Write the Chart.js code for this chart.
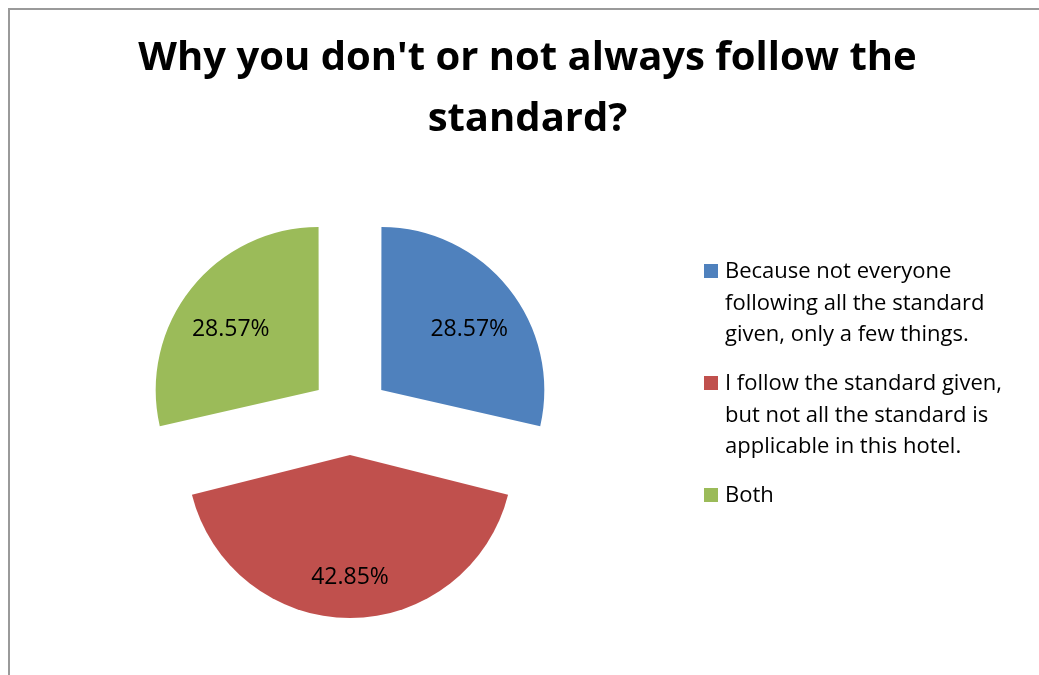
<!DOCTYPE html>
<html>
<head>
<meta charset="utf-8">
<script src="https://cdn.jsdelivr.net/npm/chart.js@4/dist/chart.umd.min.js"></script>
<style>
    html, body { margin: 0; padding: 0; background: #fff; overflow: hidden; }
    #wrap { position: relative; width: 1039px; height: 675px; }
    #frame {
        position: absolute; left: 8px; top: 8px; width: 1100px; height: 700px;
        border-left: 2px solid #9a9a9a; border-top: 2px solid #9a9a9a;
    }
    #title {
        position: absolute; left: 9px; top: 25px; width: 1037px;
        text-align: center; font: bold 40px "Open Sans", sans-serif;
        line-height: 60.6px; color: #000;
    }
    #chart { position: absolute; left: 0; top: 0; }
    #legend {
        position: absolute; left: 704px; top: 254px; width: 335px;
        font: 22px "Open Sans", sans-serif; line-height: 31.7px; color: #000;
    }
    .item { position: relative; padding-left: 21px; margin-bottom: 16.7px; white-space: nowrap; }
    .box { position: absolute; left: 0; top: 10px; width: 14px; height: 14px; }
</style>
</head>
<body>
<div id="wrap">
    <div id="frame"></div>
    <canvas id="chart" width="1039" height="675"></canvas>
    <div id="title">Why you don't or not always follow the<br>standard?</div>
    <div id="legend"></div>
</div>
<script>
const categories = [
    ['Because not everyone', 'following all the standard', 'given, only a few things.'],
    ['I follow the standard given,', 'but not all the standard is', 'applicable in this hotel.'],
    ['Both']
]
const values = [28.57, 42.85, 28.57]
const colors = ['#4F81BD', '#C0504D', '#9BBB59']

const EXPLODE = 40 // distance each slice is pulled out, px

// chart.js moves an arc by offset/4 but also grows narrow arcs by
// offset/4 * (1 - sin(circumference)); shrink them back so all slices match
const evenExplode = {
    id: 'evenExplode',
    beforeDatasetsDraw(chart) {
        const meta = chart.getDatasetMeta(0)
        const R = meta.controller.outerRadius
        meta.data.forEach(arc => {
            const fix = 1 - Math.sin(Math.min(Math.PI, arc.circumference))
            arc.outerRadius = R - EXPLODE * fix
        })
    }
}

const pctLabels = {
    id: 'pctLabels',
    afterDatasetsDraw(chart) {
        const c = chart.ctx
        const meta = chart.getDatasetMeta(0)
        const R = meta.controller.outerRadius
        c.save()
        c.font = '23px "Open Sans", sans-serif'
        c.fillStyle = '#000'
        c.textAlign = 'center'
        c.textBaseline = 'middle'
        meta.data.forEach((arc, i) => {
            const mid = (arc.startAngle + arc.endAngle) / 2
            const d = EXPLODE + R * 0.69
            // excel sits the labels a little low
            c.fillText(values[i].toFixed(2) + '%', arc.x + Math.cos(mid) * d, arc.y + Math.sin(mid) * d + 10)
        })
        c.restore()
    }
}

const chart = new Chart(document.getElementById('chart'), {
    type: 'pie',
    data: {
        labels: categories,
        datasets: [{
            data: values,
            backgroundColor: colors,
            borderWidth: 0,
            offset: EXPLODE * 4,
            hoverOffset: 0,
            radius: 163,
            clip: false
        }]
    },
    options: {
        responsive: false,
        animation: false,
        devicePixelRatio: 1,
        events: [],
        layout: { padding: { left: 167, right: 506, top: 232, bottom: 77 } },
        plugins: {
            legend: { display: false },
            title: { display: false },
            tooltip: { enabled: false }
        }
    },
    plugins: [evenExplode, pctLabels]
})

// legend as html so the wrapped lines stay as in the original
const legend = document.getElementById('legend')
chart.data.labels.forEach((lines, i) => {
    const item = document.createElement('div')
    item.className = 'item'
    const box = document.createElement('span')
    box.className = 'box'
    box.style.background = colors[i]
    item.appendChild(box)
    lines.forEach((t, j) => {
        if (j) item.appendChild(document.createElement('br'))
        item.appendChild(document.createTextNode(t))
    })
    legend.appendChild(item)
})
</script>
</body>
</html>
